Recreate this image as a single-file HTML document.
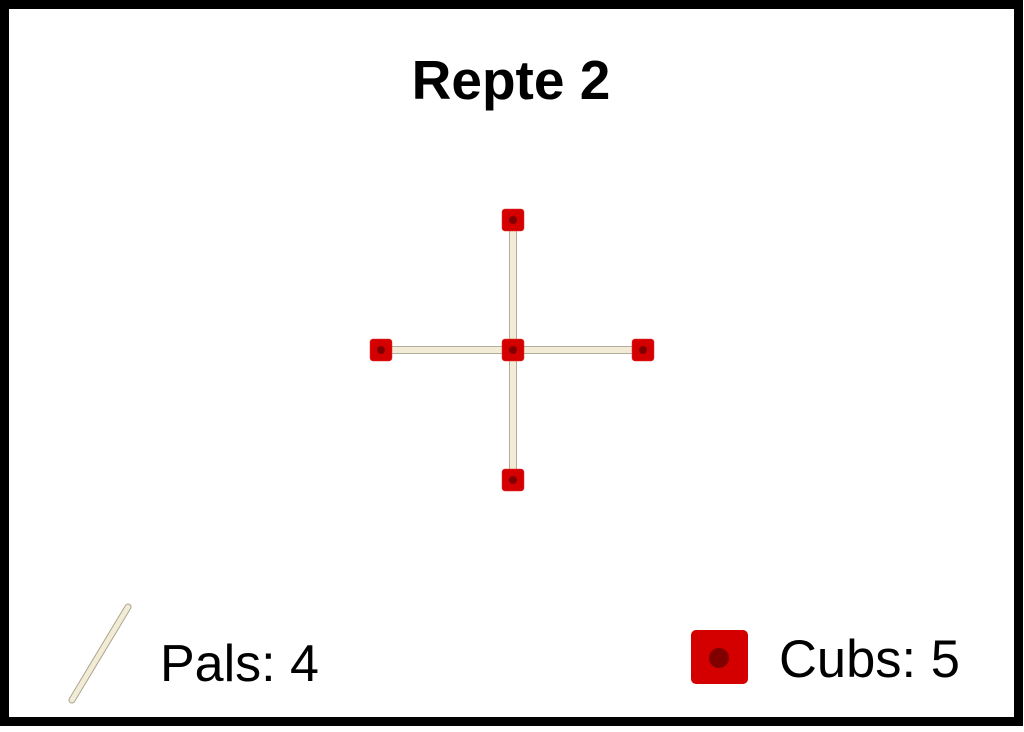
<!DOCTYPE html>
<html><head><meta charset="utf-8"><style>
html,body{margin:0;padding:0;background:#fff;}
body{width:1024px;height:727px;overflow:hidden;}
</style></head><body>
<svg width="1024" height="727" xmlns="http://www.w3.org/2000/svg">
<rect x="4.5" y="4.5" width="1014" height="717" fill="#fff" stroke="#000" stroke-width="9"/>
<text x="511" y="99" text-anchor="middle" font-family="Liberation Sans, sans-serif" font-weight="bold" font-size="55">Repte 2</text>
<g stroke="#b3ae9c" stroke-width="1" fill="#f2ebd6">
<rect x="509.5" y="220" width="7" height="130"/>
<rect x="509.5" y="350" width="7" height="130"/>
<rect x="381" y="346.5" width="132" height="7"/>
<rect x="513" y="346.5" width="130" height="7"/>
</g>
<g fill="#d40000" stroke="#e03030" stroke-width="0.5">
<rect x="502" y="209" width="22" height="22" rx="3"/>
<rect x="370" y="339" width="22" height="22" rx="3"/>
<rect x="502" y="339" width="22" height="22" rx="3"/>
<rect x="632" y="339" width="22" height="22" rx="3"/>
<rect x="502" y="469" width="22" height="22" rx="3"/>
</g>
<g fill="#800000">
<circle cx="513" cy="220" r="4"/><circle cx="381" cy="350" r="4"/><circle cx="513" cy="350" r="4"/><circle cx="643" cy="350" r="4"/><circle cx="513" cy="480" r="4"/>
</g>
<line x1="128" y1="607" x2="72" y2="700" stroke="#aaa590" stroke-width="7" stroke-linecap="round"/>
<line x1="128" y1="607" x2="72" y2="700" stroke="#f2ebd6" stroke-width="5" stroke-linecap="round"/>
<text x="160" y="681" font-family="Liberation Sans, sans-serif" font-size="52">Pals: 4</text>
<rect x="691" y="630" width="57" height="54" rx="5" fill="#d40000"/>
<circle cx="719" cy="658" r="10" fill="#800000"/>
<text x="779" y="677" font-family="Liberation Sans, sans-serif" font-size="52.5">Cubs: 5</text>
</svg>
</body></html>
